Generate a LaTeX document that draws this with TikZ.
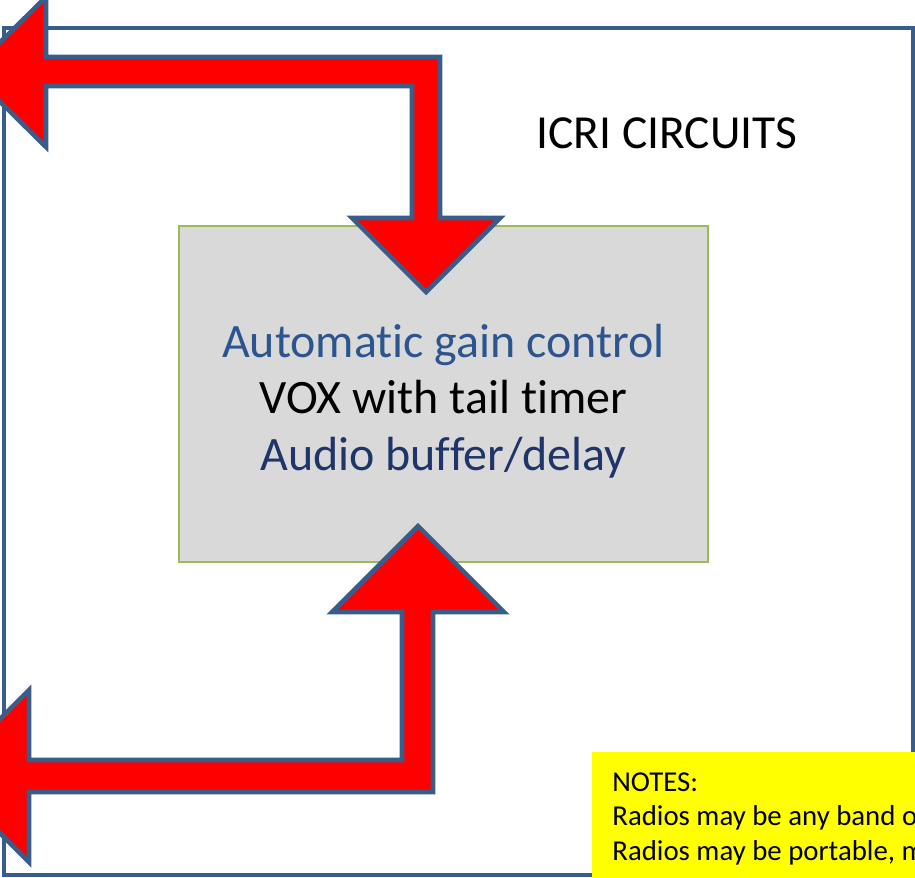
\documentclass[tikz,border=0pt]{standalone}
\usepackage{fontspec}
\setmainfont{Carlito}[Ligatures=NoCommon]
\usepackage{tikz}
\usetikzlibrary{positioning}
\definecolor{icri-frame}{HTML}{385D8A}
\definecolor{icri-red}{HTML}{FF0000}
\definecolor{icri-grey}{HTML}{D9D9D9}
\definecolor{icri-green}{HTML}{9BBB59}
\definecolor{icri-agc}{HTML}{2C5590}
\definecolor{icri-delay}{HTML}{1F3468}
\definecolor{icri-yellow}{HTML}{FFFF00}

\begin{document}
\begin{tikzpicture}[x=0.02cm, y=-0.02cm]

    % page
    \useasboundingbox (0,0) rectangle (915,877);
    \clip (0,0) rectangle (915,877);

    % outer frame
    \draw[color=icri-frame, line width=2.3pt] (4,28) rectangle (913,875);
    \node[anchor=center, font=\fontsize{27}{32}\selectfont] (title) at (667,133) {ICRI CIRCUITS};

    % circuit block
    \node[draw=icri-green, fill=icri-grey, line width=0.8pt,
          minimum width=10.58cm, minimum height=6.72cm, align=center,
          font=\fontsize{27.3}{32.3}\selectfont] (box) at (443.5,394) {};
    \node[align=center, font=\fontsize{27.3}{32.3}\selectfont] (text) at (443.5,401) {
        \textcolor{icri-agc}{Automatic gain control} \\
        VOX with tail timer \\
        \textcolor{icri-delay}{Audio buffer/delay}
    };

    % bent arrows
    \begin{scope}[every path/.style={fill=icri-red, draw=icri-frame, line width=2.6pt}]
        \path (-30,72) -- (46,-3) -- (46,57) -- (440,57) -- (440,218) -- (500,218)
            -- (426,292) -- (352,218) -- (412,218) -- (412,86) -- (46,86) -- (46,147) -- cycle;
        \path (-57,776) -- (29,690) -- (29,760) -- (402,760) -- (402,612) -- (332,612)
            -- (418,526) -- (504,612) -- (433,612) -- (433,792) -- (29,792) -- (29,862) -- cycle;
    \end{scope}

    % notes
    \fill[icri-yellow] (592,752) rectangle (930,890);
    \node[anchor=north west, align=left, inner sep=0pt,
          font=\fontsize{16.4}{19.8}\selectfont] (notes) at (612,772) {
        NOTES: \\
        Radios may be any band or mode \\
        Radios may be portable, mobile
    };

\end{tikzpicture}
\end{document}
